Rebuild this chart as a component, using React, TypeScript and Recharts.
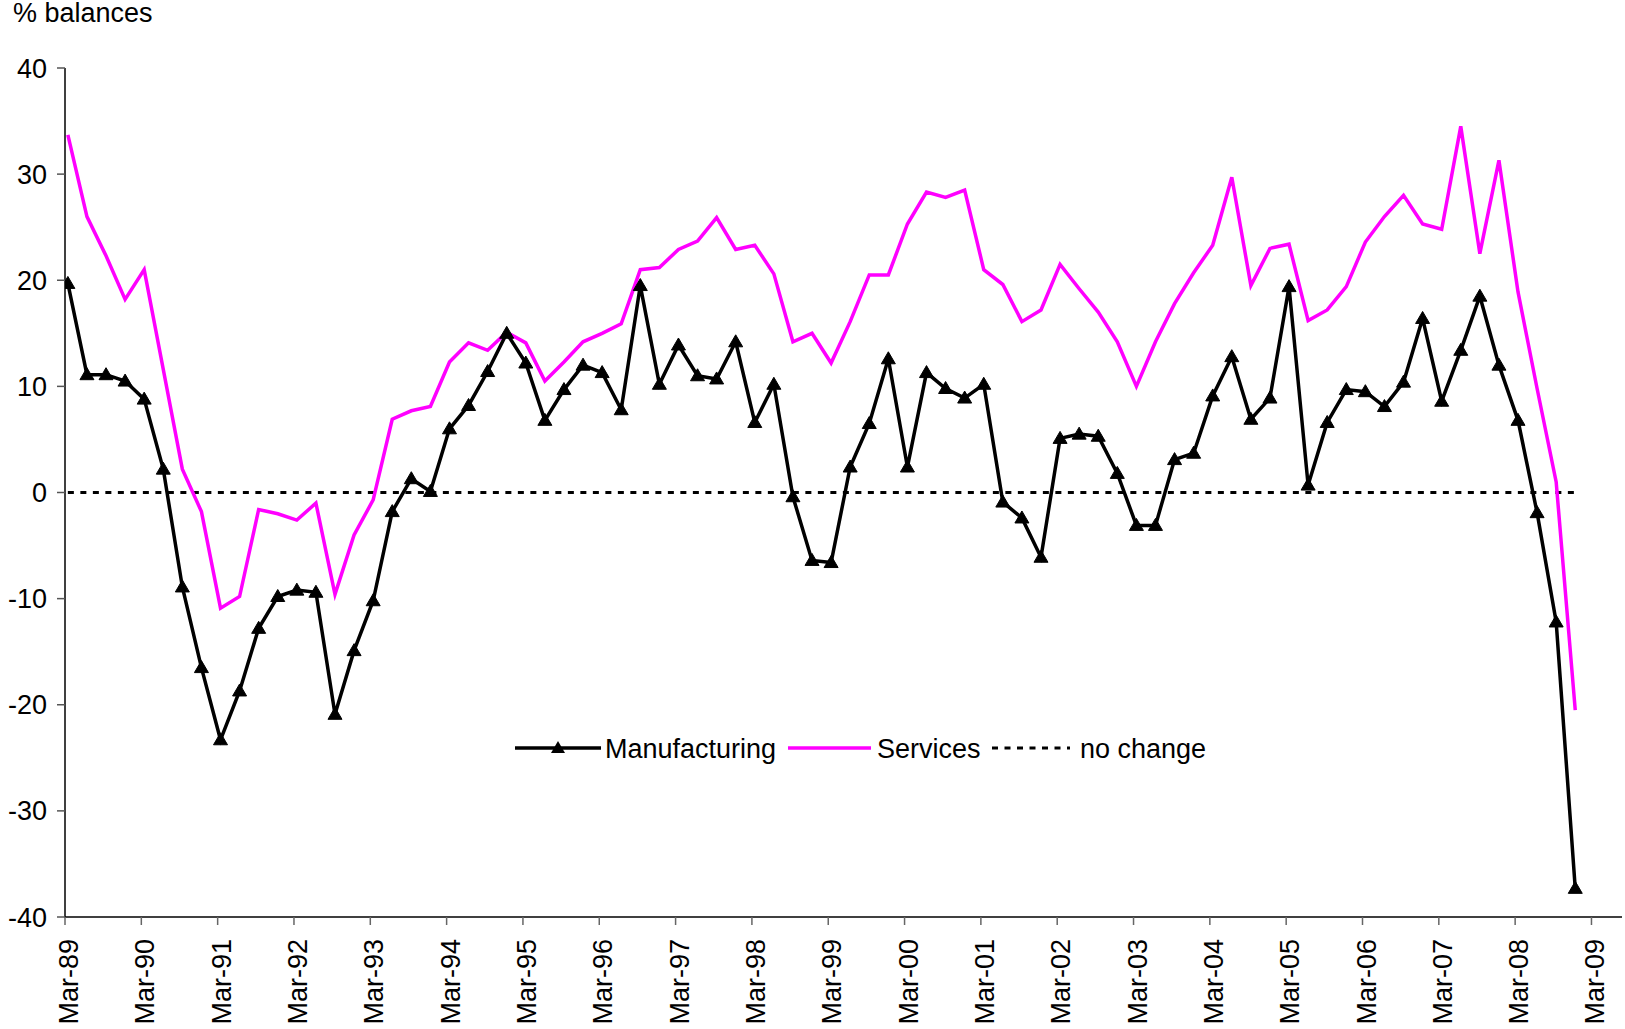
import React from "react";
import { LineChart, Line, XAxis, YAxis, ReferenceLine, Legend } from "recharts";

const years = ["89","90","91","92","93","94","95","96","97","98","99","00","01","02","03","04","05","06","07","08"];
const months = ["Mar", "Jun", "Sep", "Dec"];
const quarters: string[] = years.flatMap((y) => months.map((m) => `${m}-${y}`));

const xTickLabels = [
  "Mar-89","Mar-90","Mar-91","Mar-92","Mar-93","Mar-94","Mar-95","Mar-96","Mar-97","Mar-98",
  "Mar-99","Mar-00","Mar-01","Mar-02","Mar-03","Mar-04","Mar-05","Mar-06","Mar-07","Mar-08","Mar-09",
];
const yTicks = [-40, -30, -20, -10, 0, 10, 20, 30, 40];

const manufacturing = [
  19.7, 11.1, 11.1, 10.5, 8.8, 2.2, -8.9, -16.5, -23.3, -18.7,
  -12.8, -9.8, -9.2, -9.4, -20.9, -14.9, -10.2, -1.8, 1.3, 0.1,
  6.0, 8.2, 11.4, 15.0, 12.2, 6.8, 9.7, 12.0, 11.3, 7.8,
  19.5, 10.2, 13.9, 11.0, 10.7, 14.2, 6.6, 10.2, -0.4, -6.4,
  -6.6, 2.4, 6.5, 12.6, 2.4, 11.3, 9.8, 8.9, 10.2, -0.9,
  -2.4, -6.1, 5.1, 5.5, 5.3, 1.8, -3.1, -3.1, 3.1, 3.7,
  9.1, 12.8, 6.9, 8.9, 19.4, 0.7, 6.6, 9.7, 9.5, 8.1,
  10.4, 16.4, 8.6, 13.4, 18.5, 12.0, 6.8, -1.9, -12.2, -37.3,
];

const services = [
  33.7, 26.0, 22.3, 18.2, 21.0, 11.6, 2.2, -1.8, -10.9, -9.8,
  -1.6, -2.0, -2.6, -1.0, -9.6, -4.0, -0.7, 6.9, 7.7, 8.1,
  12.3, 14.1, 13.4, 15.1, 14.1, 10.5, 12.3, 14.2, 15.0, 15.9,
  21.0, 21.2, 22.9, 23.7, 25.9, 22.9, 23.3, 20.6, 14.2, 15.0,
  12.2, 16.1, 20.5, 20.5, 25.3, 28.3, 27.8, 28.5, 21.0, 19.6,
  16.1, 17.2, 21.5, 19.2, 17.0, 14.2, 10.0, 14.2, 17.8, 20.7,
  23.3, 29.7, 19.5, 23.0, 23.4, 16.2, 17.2, 19.4, 23.6, 26.0,
  28.0, 25.3, 24.8, 34.5, 22.5, 31.3, 18.9, 9.8, 1.0, -20.5,
];

const noChangeValue = 0;

// data points sit a little after the 1st of the month on the date axis
const DATE_OFFSET = 0.15;

const data = quarters.map((q, i) => ({
  x: i + DATE_OFFSET,
  quarter: q,
  manufacturing: manufacturing[i],
  services: services[i],
}));

const xTicks = xTickLabels.map((_, k) => k * 4);
const lastX = quarters.length - 1 + DATE_OFFSET;

const FONT = "'Liberation Sans', Arial, Helvetica, sans-serif";
const FS = 27;
const W = 1625;
const H = 1029;

const XTick = (props: any) => {
  const { x, y, payload } = props;
  const label = xTickLabels[Math.round(payload.value / 4)] ?? "";
  return (
    <g transform={`translate(${x},${y + 14})`}>
      <text
        transform="rotate(-90)"
        x={0}
        y={13}
        textAnchor="end"
        fontSize={FS}
        fontFamily={FONT}
        fill="#000"
      >
        {label}
      </text>
    </g>
  );
};

const Triangle = (props: any) => {
  const { cx, cy, index } = props;
  if (cx == null || cy == null) return <g key={`t-${index}`} />;
  return (
    <polygon
      key={`t-${index}`}
      points={`${cx},${cy - 7} ${cx - 7},${cy + 5} ${cx + 7},${cy + 5}`}
      fill="#000"
      stroke="#000"
      strokeWidth={1}
    />
  );
};

const LegendContent = () => (
  <svg width={W} height={44} style={{ display: "block" }}>
    <g fontFamily={FONT} fontSize={FS} fill="#000">
      <line x1={515} y1={22} x2={601} y2={22} stroke="#000" strokeWidth={3.5} />
      <polygon points={`558,15 551,27 565,27`} fill="#000" />
      <text x={605} y={31.5}>Manufacturing</text>
      <line x1={788} y1={22} x2={871} y2={22} stroke="#ff00ff" strokeWidth={3.5} />
      <text x={877} y={31.5}>Services</text>
      <line x1={992} y1={22} x2={1070} y2={22} stroke="#000" strokeWidth={3} strokeDasharray="6 6.5" />
      <text x={1080} y={31.5}>no change</text>
    </g>
  </svg>
);

export default function App() {
  return (
    <div
      style={{
        position: "absolute",
        left: 0,
        top: 0,
        width: W,
        height: H,
        background: "#fff",
        fontFamily: FONT,
      }}
    >
      <div
        style={{
          position: "absolute",
          left: 13,
          top: 0,
          fontSize: FS,
          lineHeight: `${FS}px`,
          color: "#000",
          whiteSpace: "nowrap",
          zIndex: 2,
        }}
      >
        % balances
      </div>
      <LineChart
        width={W}
        height={H}
        data={data}
        margin={{ top: 68, right: 3, bottom: 0, left: 0 }}
      >
        <XAxis
          type="number"
          dataKey="x"
          domain={[0, 81.6]}
          ticks={xTicks}
          interval={0}
          height={112}
          tickSize={8}
          tickMargin={0}
          tick={(p: any) => <XTick {...p} />}
          tickLine={{ stroke: "#666", strokeWidth: 1.5 }}
          axisLine={{ stroke: "#000", strokeWidth: 1.5 }}
          allowDataOverflow
        />
        <YAxis
          type="number"
          domain={[-40, 40]}
          ticks={yTicks}
          interval={0}
          width={65}
          tickSize={8}
          tickMargin={10}
          tick={{ fontSize: FS, fill: "#000", fontFamily: FONT }}
          tickLine={{ stroke: "#555", strokeWidth: 1.5 }}
          axisLine={{ stroke: "#000", strokeWidth: 1.5 }}
          allowDataOverflow
        />
        <ReferenceLine
          segment={[
            { x: DATE_OFFSET, y: noChangeValue },
            { x: lastX, y: noChangeValue },
          ]}
          stroke="#000"
          strokeWidth={3}
          strokeDasharray="6 6.5"
        />
        <Line
          type="linear"
          dataKey="services"
          stroke="#ff00ff"
          strokeWidth={3.5}
          dot={false}
          activeDot={false}
          isAnimationActive={false}
        />
        <Line
          type="linear"
          dataKey="manufacturing"
          stroke="#000"
          strokeWidth={3.5}
          dot={(p: any) => <Triangle {...p} />}
          activeDot={false}
          isAnimationActive={false}
        />
        <Legend
          layout="horizontal"
          verticalAlign="middle"
          align="center"
          content={() => <LegendContent />}
          wrapperStyle={{ position: "absolute", left: 0, top: 726, width: W, height: 44 }}
        />
      </LineChart>
    </div>
  );
}
